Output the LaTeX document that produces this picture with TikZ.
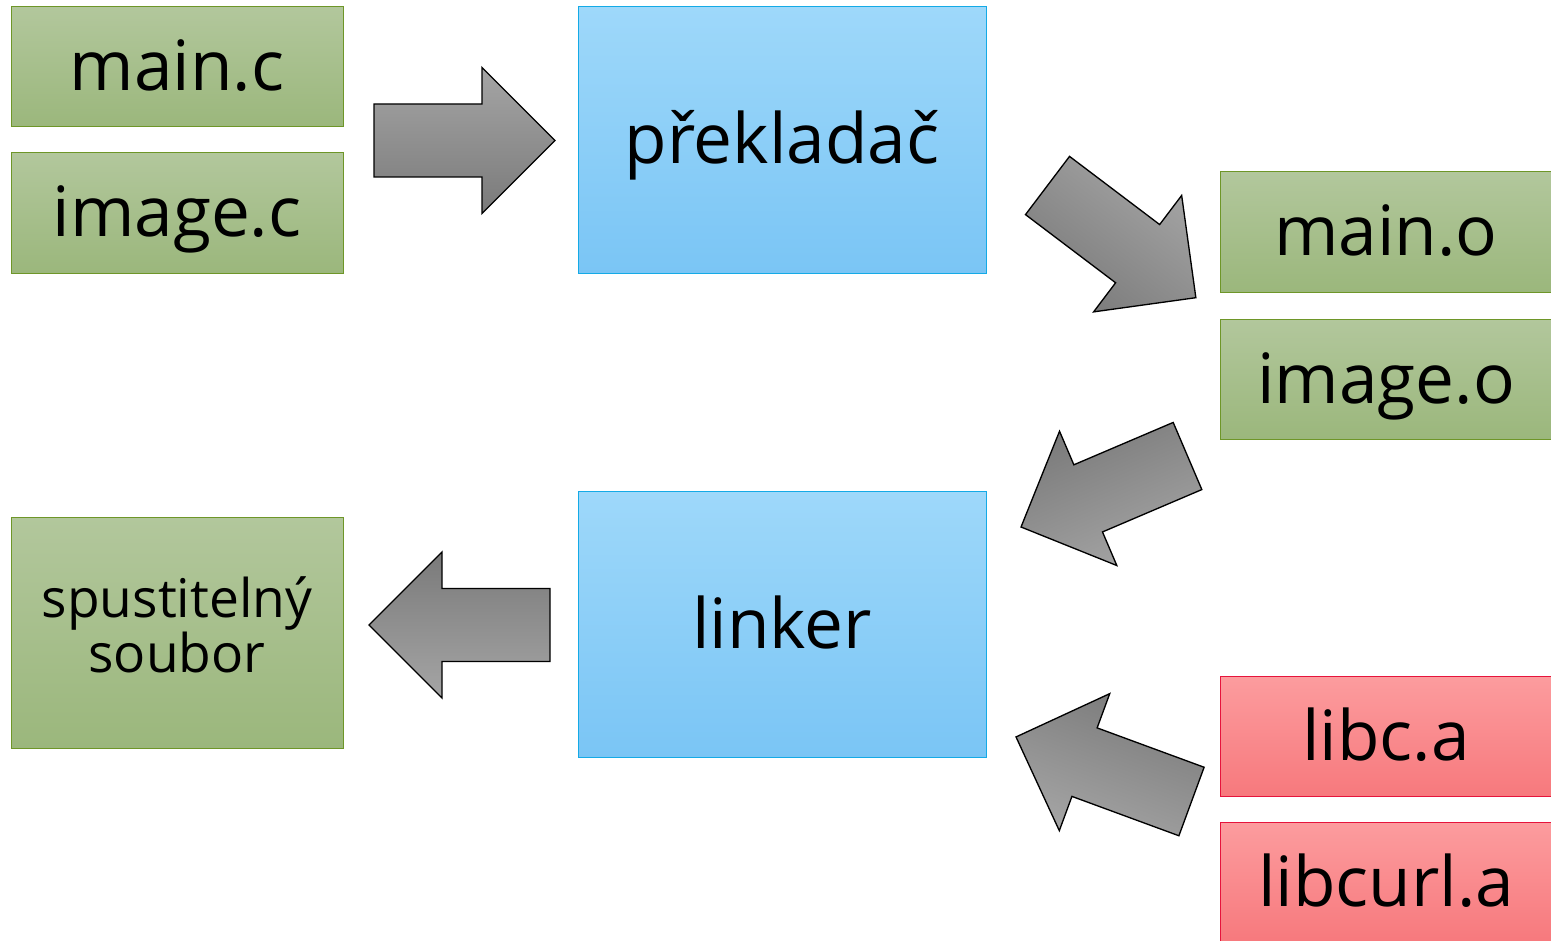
\documentclass[tikz,border=0pt]{standalone}
\usepackage{fontspec}
\setmainfont{Open Sans}

\definecolor{srcTop}{RGB}{178,199,156}
\definecolor{srcBot}{RGB}{155,183,124}
\definecolor{srcLine}{RGB}{110,150,40}
\definecolor{toolTop}{RGB}{158,216,250}
\definecolor{toolBot}{RGB}{122,197,245}
\definecolor{toolLine}{RGB}{20,170,230}
\definecolor{libTop}{RGB}{252,156,158}
\definecolor{libBot}{RGB}{247,121,125}
\definecolor{libLine}{RGB}{230,20,60}
\definecolor{arrTop}{RGB}{165,165,165}
\definecolor{arrBot}{RGB}{122,122,122}

\tikzset{every picture/.style={line width=0.75pt}}
\tikzset{
	filebox/.style={rectangle, inner sep=0pt, minimum width=249pt, minimum height=90pt, text height=40pt, text depth=4pt, font=\fontsize{52}{60}\selectfont},
	srcbox/.style={filebox, draw=srcLine, top color=srcTop, bottom color=srcBot},
	libbox/.style={filebox, draw=libLine, top color=libTop, bottom color=libBot},
	toolbox/.style={filebox, draw=toolLine, top color=toolTop, bottom color=toolBot, minimum width=306pt, minimum height=200pt},
	bigarrow/.style={draw=black, line width=1pt, top color=arrTop, bottom color=arrBot}}

% block arrow: tail centre, turn, length
\newcommand{\blockarrow}[3]{%
	\draw [bigarrow, shading angle=-#2, shift={#1}, rotate=#2] (0,-36.5) -- (#3-73,-36.5) -- (#3-73,-73) -- (#3,0) -- (#3-73,73) -- (#3-73,36.5) -- (0,36.5) -- cycle ;}

\begin{document}
\begin{tikzpicture}[x=0.75pt,y=0.75pt,yscale=-1,xscale=1]
	\useasboundingbox (0,0) rectangle (1551,941);

	% Sources
	\node [srcbox] (mainc) at (177,67) {main.c};
	\node [srcbox] (imagec) at (177,213) {image.c};
	% Compiler
	\node [toolbox] (prekladac) at (782,140) {překladač};
	% Objects
	\node [srcbox] (maino) at (1386,232) {main.o};
	\node [srcbox] (imageo) at (1386,379) {image.o};
	% Linker
	\node [toolbox] (linker) at (782,624.5) {linker};
	% Libraries
	\node [libbox] (libca) at (1386,736) {libc.a};
	\node [libbox] (libcurla) at (1386,882) {libcurl.a};
	% Output
	\node [srcbox, minimum height=173.25pt, text height=, text depth=] (spust) at (177,632.5) {};
	\node [align=center, inner sep=0pt, font=\fontsize{40}{41.5}\selectfont] (spusttext) at ([yshift=-6pt]spust.center) {spustitelný\\soubor};

	% Big arrows
	\blockarrow{(374,140.5)}{0}{181}
	\blockarrow{(1047.5,185.5)}{37.1}{186}
	\blockarrow{(1187.5,456)}{156.9}{181}
	\blockarrow{(1191.5,801.5)}{200.2}{187}
	\blockarrow{(550,625)}{180}{181}

\end{tikzpicture}
\end{document}
